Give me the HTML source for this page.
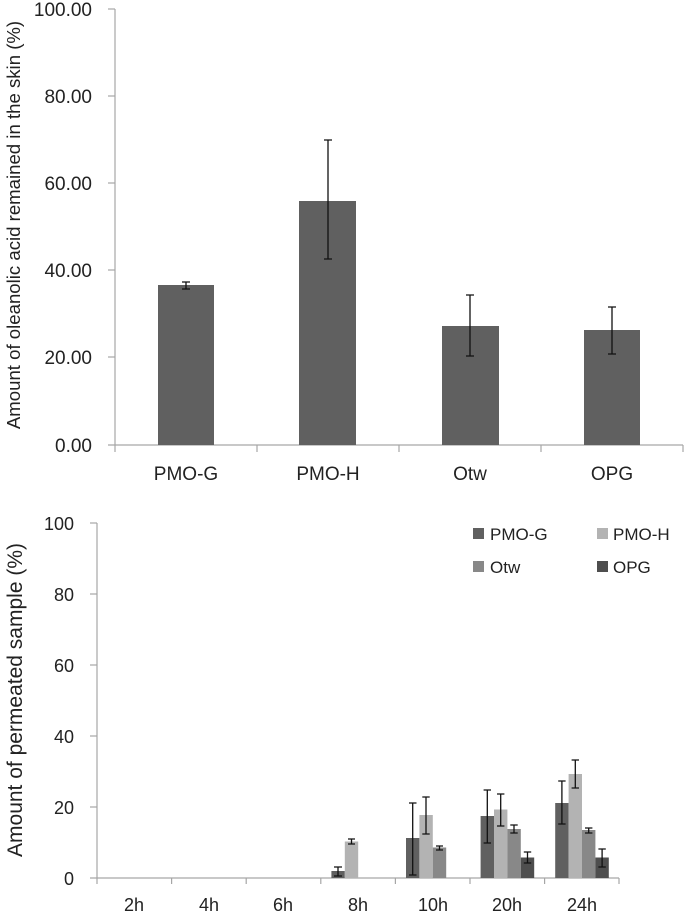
<!DOCTYPE html>
<html><head><meta charset="utf-8"><style>
body{margin:0;background:#fff}
svg text{font-family:"Liberation Sans",sans-serif;fill:#222}
</style></head><body>
<svg width="685" height="914" xmlns="http://www.w3.org/2000/svg">
<g stroke="#a6a6a6" stroke-width="1.2">
<line x1="115" y1="9" x2="115" y2="452"/>
<line x1="108" y1="445" x2="683" y2="445"/>
<line x1="108" y1="9" x2="115" y2="9"/>
<line x1="108" y1="96" x2="115" y2="96"/>
<line x1="108" y1="183" x2="115" y2="183"/>
<line x1="108" y1="270" x2="115" y2="270"/>
<line x1="108" y1="357" x2="115" y2="357"/>
<line x1="257" y1="445" x2="257" y2="452"/>
<line x1="399" y1="445" x2="399" y2="452"/>
<line x1="541" y1="445" x2="541" y2="452"/>
<line x1="683" y1="445" x2="683" y2="452"/>
</g>
<g font-size="19" text-anchor="end">
<text x="92" y="16">100.00</text>
<text x="92" y="103">80.00</text>
<text x="92" y="190">60.00</text>
<text x="92" y="277">40.00</text>
<text x="92" y="364">20.00</text>
<text x="92" y="452">0.00</text>
</g>
<text transform="translate(20,225) rotate(-90)" font-size="18.6" text-anchor="middle">Amount of oleanolic  acid remained in the  skin (%)</text>
<g fill="#606060">
<rect x="158" y="285" width="56" height="160"/>
<rect x="299" y="201" width="57" height="244"/>
<rect x="442" y="326" width="57" height="119"/>
<rect x="584" y="330" width="56" height="115"/>
</g>
<g stroke="#111" stroke-width="1.3" fill="none">
<path d="M186 282V289M182 282H190M182 289H190"/>
<path d="M328 140V259M324 140H332M324 259H332"/>
<path d="M470 295V356M466 295H474M466 356H474"/>
<path d="M612 307V354M608 307H616M608 354H616"/>
</g>
<g font-size="19" text-anchor="middle">
<text x="186" y="480">PMO-G</text>
<text x="328" y="480">PMO-H</text>
<text x="470" y="480">Otw</text>
<text x="612" y="480">OPG</text>
</g>

<g stroke="#a6a6a6" stroke-width="1.2">
<line x1="97" y1="523" x2="97" y2="884"/>
<line x1="90" y1="878" x2="619" y2="878"/>
<line x1="90" y1="523" x2="97" y2="523"/>
<line x1="90" y1="594" x2="97" y2="594"/>
<line x1="90" y1="665" x2="97" y2="665"/>
<line x1="90" y1="736" x2="97" y2="736"/>
<line x1="90" y1="807" x2="97" y2="807"/>
<line x1="171.6" y1="878" x2="171.6" y2="884"/>
<line x1="246.2" y1="878" x2="246.2" y2="884"/>
<line x1="320.8" y1="878" x2="320.8" y2="884"/>
<line x1="395.4" y1="878" x2="395.4" y2="884"/>
<line x1="470" y1="878" x2="470" y2="884"/>
<line x1="544.6" y1="878" x2="544.6" y2="884"/>
<line x1="619" y1="878" x2="619" y2="884"/>
</g>
<g font-size="18" text-anchor="end">
<text x="74" y="530">100</text>
<text x="74" y="601">80</text>
<text x="74" y="672">60</text>
<text x="74" y="743">40</text>
<text x="74" y="814">20</text>
<text x="74" y="885">0</text>
</g>
<text transform="translate(22,700) rotate(-90)" font-size="21" text-anchor="middle">Amount of permeated sample (%)</text>
<g font-size="18" text-anchor="middle">
<text x="134" y="911">2h</text>
<text x="209" y="911">4h</text>
<text x="283" y="911">6h</text>
<text x="358" y="911">8h</text>
<text x="433" y="911">10h</text>
<text x="507" y="911">20h</text>
<text x="582" y="911">24h</text>
</g>
<g>
<rect x="331.4" y="871" width="13.4" height="7" fill="#606060"/>
<rect x="344.8" y="841.5" width="13.4" height="36.5" fill="#b3b3b3"/>
<rect x="406" y="838" width="13.4" height="40" fill="#606060"/>
<rect x="419.4" y="815" width="13.4" height="63" fill="#b3b3b3"/>
<rect x="432.8" y="847.5" width="13.4" height="30.5" fill="#888"/>
<rect x="480.6" y="816" width="13.4" height="62" fill="#606060"/>
<rect x="494" y="809.5" width="13.4" height="68.5" fill="#b3b3b3"/>
<rect x="507.4" y="829" width="13.4" height="49" fill="#888"/>
<rect x="520.8" y="857.5" width="13.4" height="20.5" fill="#4e4e4e"/>
<rect x="555.2" y="803" width="13.4" height="75" fill="#606060"/>
<rect x="568.6" y="774" width="13.4" height="104" fill="#b3b3b3"/>
<rect x="582" y="830" width="13.4" height="48" fill="#888"/>
<rect x="595.4" y="857.5" width="13.4" height="20.5" fill="#4e4e4e"/>
</g>
<g stroke="#111" stroke-width="1.3" fill="none">
<path d="M338 867V876M334 867H342M334 876H342"/>
<path d="M351.5 839V844M348 839H355M348 844H355"/>
<path d="M412.7 803V875M409 803H416.5M409 875H416.5"/>
<path d="M426 797V834M422.3 797H429.7M422.3 834H429.7"/>
<path d="M439.5 846V850M436 846H443M436 850H443"/>
<path d="M487.3 790V843M483.6 790H491M483.6 843H491"/>
<path d="M500.7 794V826M497 794H504.4M497 826H504.4"/>
<path d="M514 825V833M510.3 825H517.7M510.3 833H517.7"/>
<path d="M527.5 852V863M523.8 852H531.2M523.8 863H531.2"/>
<path d="M561.9 781V824M558.2 781H565.6M558.2 824H565.6"/>
<path d="M575.3 760V788M571.6 760H579M571.6 788H579"/>
<path d="M588.7 828V833M585 828H592.4M585 833H592.4"/>
<path d="M602.1 849V867M598.4 849H605.8M598.4 867H605.8"/>
</g>
<rect x="473" y="528" width="11" height="11" fill="#606060"/>
<text x="490" y="540" font-size="17">PMO-G</text>
<rect x="597" y="528" width="11" height="11" fill="#b3b3b3"/>
<text x="613" y="540" font-size="17">PMO-H</text>
<rect x="473" y="561" width="11" height="11" fill="#888"/>
<text x="490" y="573" font-size="17">Otw</text>
<rect x="597" y="561" width="11" height="11" fill="#4e4e4e"/>
<text x="613" y="573" font-size="17">OPG</text>
</svg>
</body></html>
